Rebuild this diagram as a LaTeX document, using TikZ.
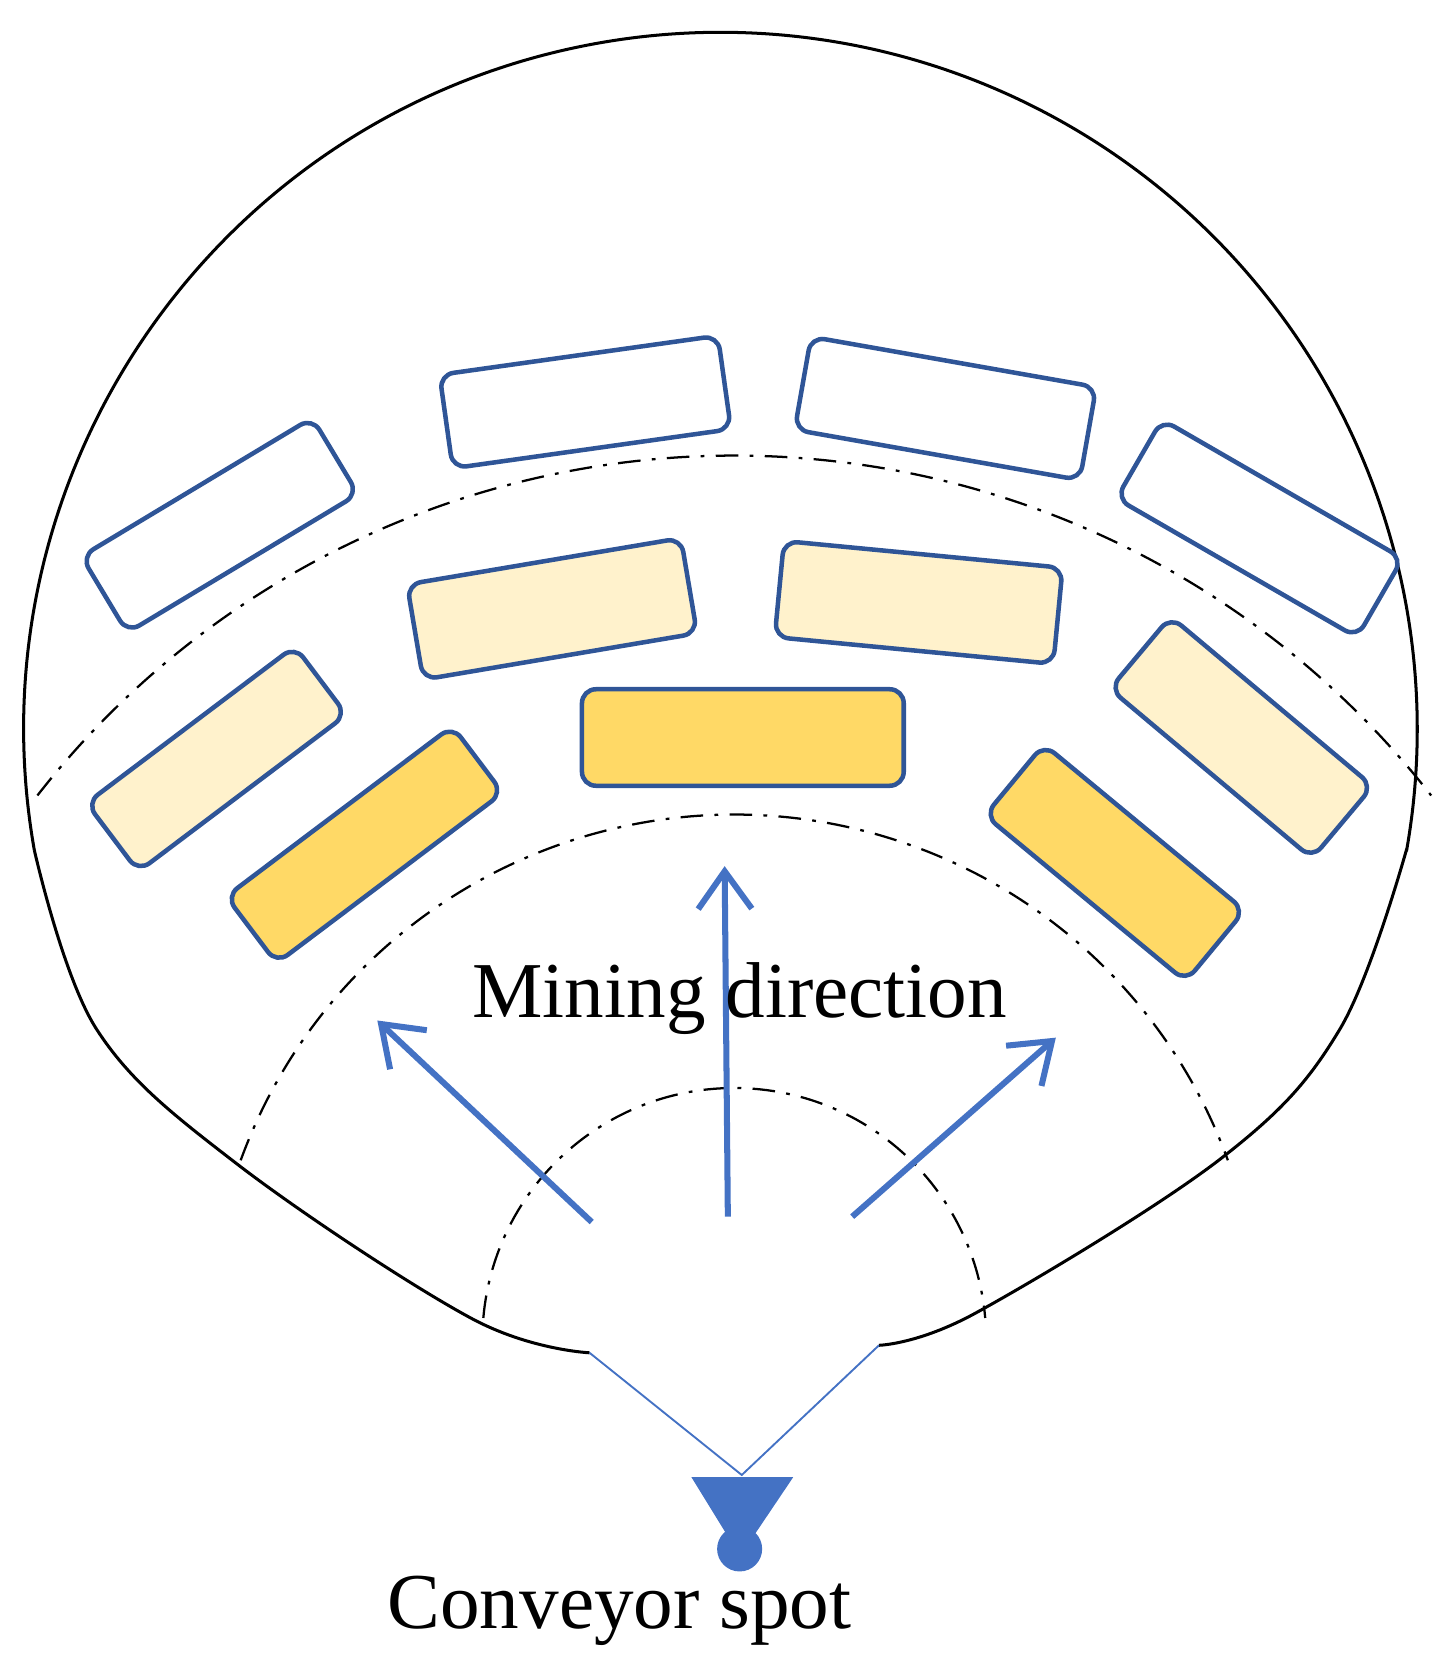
\documentclass[tikz,border=0pt]{standalone}
\usepackage{fontspec}
\setmainfont{Liberation Serif}
\usetikzlibrary{arrows.meta}
\definecolor{bl}{HTML}{2F5597}
\definecolor{ab}{HTML}{4472C4}
\definecolor{cream}{HTML}{FFF2CC}
\definecolor{gold}{HTML}{FFD966}
\begin{document}
\begin{tikzpicture}[x=0.01cm,y=-0.01cm,
  blk/.style={draw=bl,line width=1.2pt,rounded corners=0.13cm,inner sep=0pt},
  outerblk/.style={blk,fill=white},
  midblk/.style={blk,fill=cream},
  innblk/.style={blk,fill=gold},
  dd/.style={draw=black,line width=0.6pt,dash pattern=on 6pt off 3pt on 1pt off 3pt},
  arr/.style={draw=ab,line width=1.6pt,-{Straight Barb[length=0.35cm,width=0.5cm]}},
  feed/.style={draw=ab,line width=0.5pt}]
\useasboundingbox (0,0) rectangle (1350,1557);
% outer outline
\draw[line width=0.8pt] (32,793) arc[start angle=-190,end angle=10,radius=650]
  -- plot[smooth,tension=0.6] coordinates {(1312,793)(1250,960)(1140,1080)(910,1225)(820,1255)};
\draw[line width=0.8pt] plot[smooth,tension=0.6] coordinates {(32,793)(90,960)(220,1085)(440,1230)(550,1262)};
% dash-dot arcs
\draw[dd] (685,1250) ++(-142:825) arc[start angle=-142,end angle=-38,radius=825];
\draw[dd] (685,1250) ++(-160:490) arc[start angle=-160,end angle=-20,radius=490];
\draw[dd] (685,1250) ++(-175:235) arc[start angle=-175,end angle=-5,radius=235];
% outer ring
\node[outerblk,minimum width=2.51cm,minimum height=0.83cm,rotate=31] (r1) at (205,490) {};
\node[outerblk,minimum width=2.62cm,minimum height=0.88cm,rotate=8] (r2) at (546,375) {};
\node[outerblk,minimum width=2.70cm,minimum height=0.88cm,rotate=-10] (r3) at (882,381) {};
\node[outerblk,minimum width=2.59cm,minimum height=0.85cm,rotate=-30] (r4) at (1175,493) {};
% middle ring
\node[midblk,minimum width=2.43cm,minimum height=0.80cm,rotate=37] (m1) at (202,708) {};
\node[midblk,minimum width=2.59cm,minimum height=0.90cm,rotate=9.6] (m2) at (515,568) {};
\node[midblk,minimum width=2.61cm,minimum height=0.90cm,rotate=-5.5] (m3) at (857,562) {};
\node[midblk,minimum width=2.46cm,minimum height=0.88cm,rotate=-40] (m4) at (1158,688) {};
% inner ring
\node[innblk,minimum width=2.64cm,minimum height=0.78cm,rotate=37] (i1) at (340,788) {};
\node[innblk,minimum width=3.00cm,minimum height=0.90cm] (i2) at (693,688) {};
\node[innblk,minimum width=2.43cm,minimum height=0.86cm,rotate=-39.6] (i3) at (1040,805) {};
% arrows
\coordinate (a1s) at (552,1140); \coordinate (a1e) at (352,952);
\coordinate (a2s) at (679,1135); \coordinate (a2e) at (676,808);
\coordinate (a3s) at (795,1135); \coordinate (a3e) at (985,968);
\draw[arr] (a1s) -- (a1e);
\draw[arr] (a2s) -- (a2e);
\draw[arr] (a3s) -- (a3e);
\node[font=\fontsize{21}{24}\selectfont] (md) at (690,932) {Mining direction};
% conveyor
\coordinate (fl) at (550,1262); \coordinate (fr) at (820,1255);
\node[circle,fill=ab,minimum size=0.42cm,inner sep=0pt] (cs) at (690,1445) {};
\fill[ab] (645,1378) -- (740,1378) -- (705,1430) -- (677,1430) -- cycle;
\coordinate (ft) at (692,1376);
\draw[feed] (fl) -- (ft) -- (fr);
\node[font=\fontsize{21}{24}\selectfont] (cv) at (578,1503) {Conveyor spot};
\end{tikzpicture}
\end{document}
